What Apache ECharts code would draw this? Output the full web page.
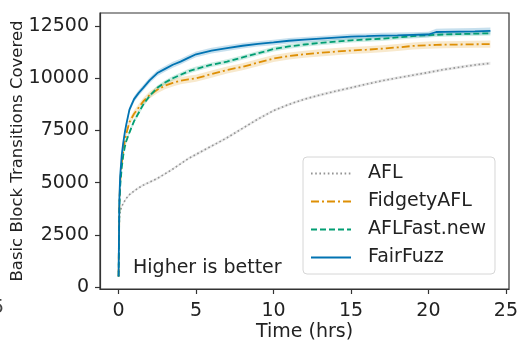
<!DOCTYPE html>
<html>
<head>
<meta charset="utf-8">
<script src="https://cdn.jsdelivr.net/npm/echarts@6/dist/echarts.min.js"></script>
<style>
  html, body { margin: 0; padding: 0; background: #fff; }
  #chart { width: 518px; height: 341px; }
</style>
</head>
<body>
<div id="chart"></div>
<script>
// Campaign time (hours) at which coverage was sampled
const hours = [0, 0.05, 0.1, 0.2, 0.3, 0.4, 0.5, 0.7, 1, 1.3, 1.6, 2, 2.5, 3, 3.5, 4, 4.5, 5,
  6, 7, 8, 9, 10, 11, 12, 13, 14, 15, 16, 17, 18, 19, 20, 20.5, 21, 22, 23, 24];

// Mean basic block transitions covered
const aflCov = [500, 3300, 3600, 3850, 4000, 4130, 4250, 4420, 4600, 4750, 4880, 5020, 5200, 5420, 5650, 5900, 6150, 6350,
  6750, 7150, 7600, 8050, 8450, 8750, 9000, 9200, 9380, 9550, 9720, 9880, 10020, 10150, 10280, 10350, 10420, 10530, 10640, 10720];
const fidgetyCov = [500, 4000, 5000, 5900, 6500, 7000, 7350, 7900, 8300, 8600, 8900, 9200, 9450, 9650, 9780, 9880, 9950, 10000,
  10200, 10400, 10550, 10750, 10950, 11070, 11150, 11220, 11280, 11330, 11370, 11420, 11480, 11550, 11590, 11600, 11610, 11620, 11630, 11640];
const aflFastCov = [500, 3800, 4800, 5700, 6300, 6700, 7000, 7400, 7950, 8350, 8750, 9150, 9550, 9800, 10000, 10170, 10330, 10450,
  10650, 10800, 11000, 11200, 11400, 11530, 11620, 11700, 11760, 11820, 11860, 11900, 11960, 12020, 12070, 12085, 12100, 12120, 12140, 12160];
const fairFuzzCov = [500, 4200, 5300, 6300, 6900, 7400, 7800, 8500, 9000, 9300, 9550, 9900, 10250, 10450, 10650, 10800, 10980, 11150,
  11330, 11450, 11560, 11650, 11720, 11800, 11850, 11900, 11950, 12000, 12020, 12050, 12060, 12080, 12100, 12220, 12230, 12240, 12250, 12270];

// Half-width of the shaded confidence band around each mean
const aflSpread = [20, 60, 60, 60, 60, 60, 60, 60, 60, 60, 60, 60, 60, 60, 60, 60, 60, 70,
  70, 70, 70, 70, 70, 70, 70, 70, 70, 70, 70, 70, 70, 70, 70, 70, 70, 70, 70, 70];
const fidgetySpread = [30, 150, 160, 160, 160, 160, 160, 160, 170, 170, 170, 170, 170, 170, 170, 170, 170, 170,
  170, 170, 170, 170, 170, 170, 170, 170, 170, 170, 170, 170, 170, 170, 170, 170, 170, 170, 170, 170];
const aflFastSpread = [30, 110, 110, 110, 110, 110, 110, 110, 110, 110, 110, 110, 110, 110, 110, 110, 110, 110,
  110, 110, 110, 110, 110, 110, 110, 110, 110, 110, 110, 110, 110, 110, 110, 110, 110, 110, 110, 110];
const fairFuzzSpread = [30, 150, 150, 150, 150, 150, 140, 140, 140, 140, 140, 140, 140, 140, 140, 140, 140, 140,
  140, 140, 130, 130, 130, 130, 130, 130, 130, 130, 130, 130, 130, 130, 130, 160, 160, 160, 160, 160];

const xTicks = [0, 5, 10, 15, 20, 25];
const yTicks = [0, 2500, 5000, 7500, 10000, 12500];

const FONT = 'DejaVu Sans';
const TEXT = '#222';

const fuzzers = [
  { name: 'AFL', mean: aflCov, spread: aflSpread, color: '#949494', dash: [1.6, 2.6], width: 1.6, band: 'rgba(148,148,148,0.22)' },
  { name: 'FidgetyAFL', mean: fidgetyCov, spread: fidgetySpread, color: '#DE8F05', dash: [8, 3, 2, 3], width: 1.8, band: 'rgba(222,143,5,0.2)' },
  { name: 'AFLFast.new', mean: aflFastCov, spread: aflFastSpread, color: '#029E73', dash: [6, 3], width: 1.8, band: 'rgba(2,158,115,0.2)' },
  { name: 'FairFuzz', mean: fairFuzzCov, spread: fairFuzzSpread, color: '#0173B2', dash: 'solid', width: 1.8, band: 'rgba(1,115,178,0.22)' }
];

const series = [];
// Shaded bands: one polygon per fuzzer (upper edge forward, lower edge back)
fuzzers.forEach((f) => {
  series.push({
    type: 'custom', silent: true, z: 1,
    coordinateSystem: 'cartesian2d',
    encode: { x: 0, y: [1, 2] },
    data: hours.map((t, i) => [t, f.mean[i] - f.spread[i], f.mean[i] + f.spread[i]]),
    renderItem: function (params, api) {
      if (params.dataIndex !== 0) return null;
      const pts = [];
      for (let i = 0; i < hours.length; i++) pts.push(api.coord([hours[i], f.mean[i] + f.spread[i]]));
      for (let i = hours.length - 1; i >= 0; i--) pts.push(api.coord([hours[i], f.mean[i] - f.spread[i]]));
      return { type: 'polygon', shape: { points: pts }, style: { fill: f.band }, silent: true };
    }
  });
});
fuzzers.forEach((f, k) => {
  series.push({
    name: f.name, type: 'line', symbol: 'none', z: 3 + k,
    lineStyle: { color: f.color, width: f.width, type: f.dash },
    itemStyle: { color: f.color },
    data: hours.map((t, i) => [t, f.mean[i]])
  });
});

const chart = echarts.init(document.getElementById('chart'), null, { renderer: 'canvas' });
chart.setOption({
  animation: false,
  backgroundColor: '#fff',
  grid: {
    left: 100, right: 9, top: 13, bottom: 52, outerBoundsMode: 'none',
    show: true, borderColor: '#333', borderWidth: 1.2, backgroundColor: 'transparent'
  },
  xAxis: {
    type: 'value', min: -1.2, max: 25.2,
    name: 'Time (hrs)', nameLocation: 'middle', nameGap: 34, nameMoveOverlap: false,
    nameTextStyle: { fontFamily: FONT, fontSize: 19, color: TEXT },
    axisLine: { show: true, onZero: false, lineStyle: { color: '#333', width: 1.2 } },
    axisTick: { show: true, length: 5, lineStyle: { color: '#333', width: 1.2 }, customValues: xTicks },
    axisLabel: { fontFamily: FONT, fontSize: 19, color: TEXT, margin: 13, customValues: xTicks, formatter: v => String(v) },
    splitLine: { show: false }
  },
  yAxis: {
    type: 'value', min: -100, max: 13130,
    name: 'Basic Block Transitions Covered', nameLocation: 'middle', nameGap: 74, nameRotate: 90, nameMoveOverlap: false,
    nameTextStyle: { fontFamily: FONT, fontSize: 16.5, color: TEXT },
    axisLine: { show: true, onZero: false, lineStyle: { color: '#333', width: 1.2 } },
    axisTick: { show: true, length: 5, lineStyle: { color: '#333', width: 1.2 }, customValues: yTicks },
    axisLabel: { fontFamily: FONT, fontSize: 19, color: TEXT, margin: 11, customValues: yTicks, formatter: v => String(v) },
    splitLine: { show: false }
  },
  legend: {
    data: fuzzers.map(f => f.name),
    orient: 'vertical', left: 303, top: 157,
    padding: [7, 9, 7, 7],
    backgroundColor: 'rgba(255,255,255,0.85)',
    borderColor: '#d6d6d6', borderWidth: 1, borderRadius: 4,
    itemWidth: 40, itemHeight: 19, itemGap: 9,
    itemStyle: { opacity: 0 },
    textStyle: { fontFamily: FONT, fontSize: 19, color: TEXT, padding: [0, 0, 0, 12] }
  },
  graphic: [
    { type: 'text', left: 133, top: 259, z: 10,
      style: { text: 'Higher is better', font: '19px "DejaVu Sans"', fill: TEXT } },
    { type: 'text', left: -8, top: 299, z: 10,
      style: { text: '5', font: '19px "DejaVu Sans"', fill: '#444' } }
  ],
  series: series
});
</script>
</body>
</html>
